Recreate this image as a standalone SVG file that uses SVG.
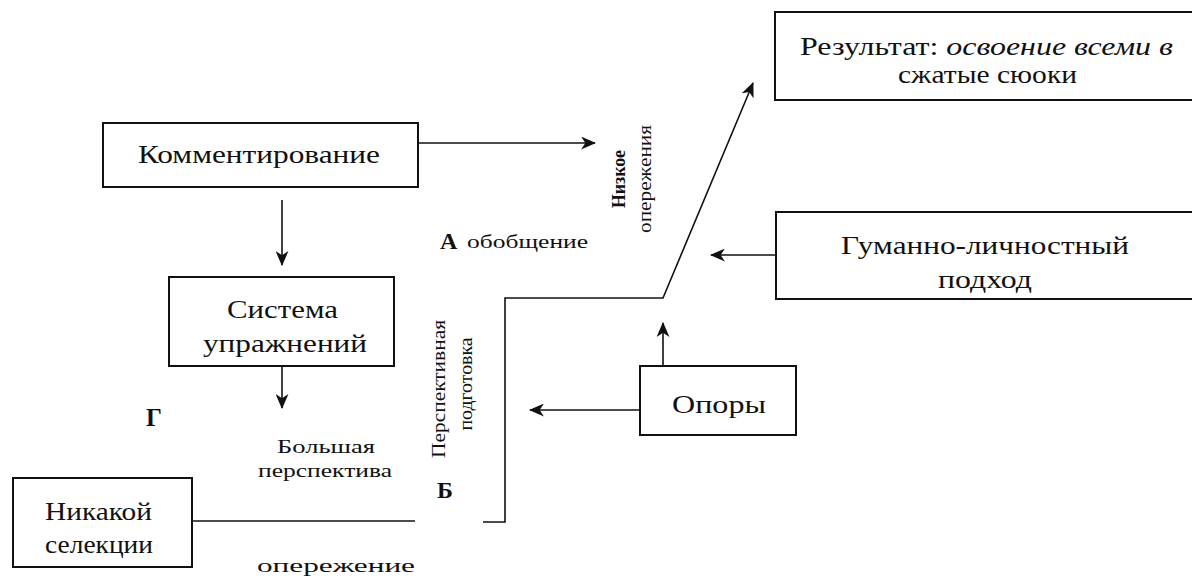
<svg xmlns="http://www.w3.org/2000/svg" width="1192" height="579" viewBox="0 0 1192 579">
<defs>
<marker id="ah" viewBox="0 0 14 12" refX="13" refY="6" markerWidth="15" markerHeight="13" markerUnits="userSpaceOnUse" orient="auto">
<path d="M0,0 L14,6 L0,12 L4,6 Z" fill="#111"/>
</marker>
<style>
.box{fill:#fff;stroke:#111;stroke-width:2}
.t{font-family:'Liberation Serif','Times New Roman',Times,serif;fill:#111}
.lg{font-size:25px}
.sm{font-size:19px}
.vt{font-size:18px}
.b{font-weight:bold}
.c{fill:none;stroke:#111;stroke-width:1.6}
.ar{marker-end:url(#ah)}
</style>
</defs>
<rect width="1192" height="579" fill="#fff"/>

<g id="connectors">
<line class="c ar" x1="418" y1="143" x2="595" y2="143"/>
<line class="c ar" x1="282" y1="200" x2="282" y2="265"/>
<line class="c ar" x1="282" y1="366" x2="282" y2="408"/>
<line class="c" x1="192" y1="521" x2="415" y2="521"/>
<polyline class="c ar" points="483,522 505,522 505,298 663,298 753,83"/>
<line class="c ar" x1="776" y1="255" x2="711" y2="255"/>
<line class="c ar" x1="663" y1="366" x2="663" y2="323"/>
<line class="c ar" x1="640" y1="410" x2="530" y2="410"/>
</g>

<g id="result">
<rect class="box" x="775" y="12" width="430" height="88"/>
<text class="t lg" x="800" y="55" textLength="373" lengthAdjust="spacingAndGlyphs">Результат: <tspan font-style="italic">освоение всеми в</tspan></text>
<text class="t lg" x="898" y="83" textLength="179" lengthAdjust="spacingAndGlyphs">сжатые сюоки</text>
</g>

<g id="kommentirovanie">
<rect class="box" x="103" y="123" width="315" height="64"/>
<text class="t lg" x="138" y="163" textLength="242" lengthAdjust="spacingAndGlyphs">Комментирование</text>
</g>

<g id="sistema">
<rect class="box" x="169" y="277" width="225" height="89"/>
<text class="t lg" x="227" y="318" textLength="111" lengthAdjust="spacingAndGlyphs">Система</text>
<text class="t lg" x="203" y="352" textLength="164" lengthAdjust="spacingAndGlyphs">упражнений</text>
</g>

<g id="gumanno">
<rect class="box" x="776" y="212" width="430" height="87"/>
<text class="t lg" x="841" y="254" textLength="288" lengthAdjust="spacingAndGlyphs">Гуманно-личностный</text>
<text class="t lg" x="938" y="288" textLength="94" lengthAdjust="spacingAndGlyphs">подход</text>
</g>

<g id="opory">
<rect class="box" x="640" y="366" width="156" height="69"/>
<text class="t lg" x="672" y="413" textLength="94" lengthAdjust="spacingAndGlyphs">Опоры</text>
</g>

<g id="nikakoy">
<rect class="box" x="13" y="478" width="179" height="89"/>
<text class="t lg" x="45" y="520" textLength="107" lengthAdjust="spacingAndGlyphs">Никакой</text>
<text class="t lg" x="45" y="553" textLength="108" lengthAdjust="spacingAndGlyphs">селекции</text>
</g>

<g id="labels">
<text class="t b" font-size="24" x="440" y="249">А</text>
<text class="t sm" x="467" y="248" textLength="121" lengthAdjust="spacingAndGlyphs">обобщение</text>
<text class="t vt b" transform="translate(625,179) rotate(-90)" text-anchor="middle" textLength="58" lengthAdjust="spacingAndGlyphs">Низкое</text>
<text class="t vt" transform="translate(651,179) rotate(-90)" text-anchor="middle" textLength="108" lengthAdjust="spacingAndGlyphs">опережения</text>
<text class="t vt" transform="translate(445,389) rotate(-90)" text-anchor="middle" textLength="138" lengthAdjust="spacingAndGlyphs">Перспективная</text>
<text class="t vt" transform="translate(472,384) rotate(-90)" text-anchor="middle" textLength="93" lengthAdjust="spacingAndGlyphs">подготовка</text>
<text class="t b" font-size="25" x="146" y="426">Г</text>
<text class="t b" font-size="24" x="437" y="498">Б</text>
<text class="t sm" x="277" y="453" textLength="98" lengthAdjust="spacingAndGlyphs">Большая</text>
<text class="t sm" x="258" y="477" textLength="134" lengthAdjust="spacingAndGlyphs">перспектива</text>
<text class="t sm" x="257" y="572" textLength="158" lengthAdjust="spacingAndGlyphs">опережение</text>
</g>
</svg>
